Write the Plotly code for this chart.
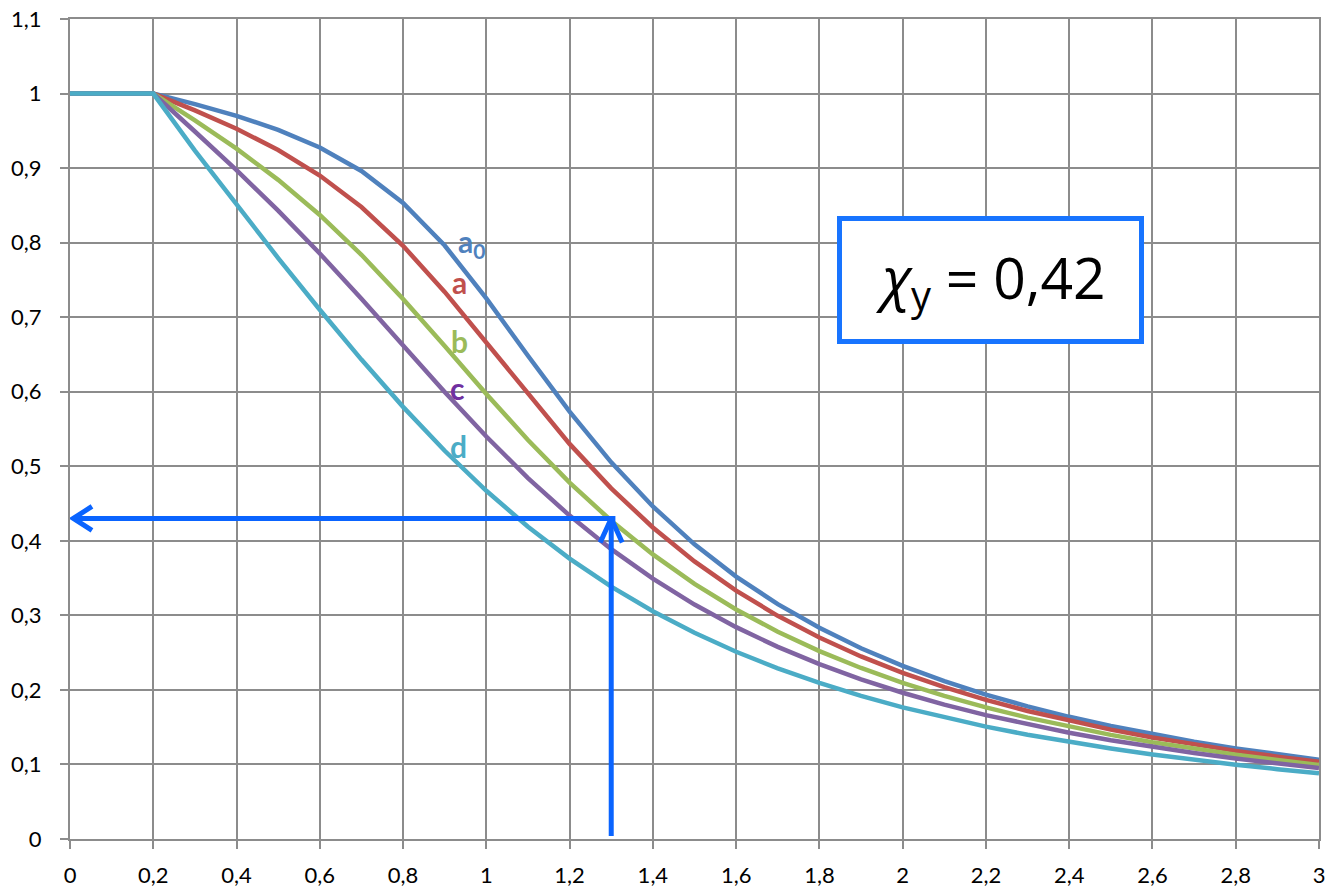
import plotly.graph_objects as go

lam = [0.0, 0.1, 0.2, 0.3, 0.4, 0.5, 0.6, 0.7, 0.8, 0.9, 1.0, 1.1, 1.2, 1.3, 1.4, 1.5,
       1.6, 1.7, 1.8, 1.9, 2.0, 2.1, 2.2, 2.3, 2.4, 2.5, 2.6, 2.7, 2.8, 2.9, 3.0]

chi_a0 = [1.0, 1.0, 1.0, 0.9859, 0.9701, 0.9513, 0.9276, 0.8961, 0.8533, 0.7961, 0.7253,
          0.6482, 0.5732, 0.5053, 0.4461, 0.3953, 0.3520, 0.3150, 0.2833, 0.2559, 0.2323,
          0.2117, 0.1937, 0.1779, 0.1639, 0.1515, 0.1404, 0.1305, 0.1216, 0.1136, 0.1063]
chi_a = [1.0, 1.0, 1.0, 0.9775, 0.9528, 0.9243, 0.8900, 0.8477, 0.7957, 0.7339, 0.6656,
         0.5960, 0.5300, 0.4703, 0.4179, 0.3724, 0.3332, 0.2994, 0.2702, 0.2449, 0.2229,
         0.2036, 0.1867, 0.1717, 0.1585, 0.1467, 0.1362, 0.1267, 0.1182, 0.1105, 0.1036]
chi_b = [1.0, 1.0, 1.0, 0.9641, 0.9261, 0.8842, 0.8371, 0.7837, 0.7245, 0.6612, 0.5970,
         0.5352, 0.4781, 0.4269, 0.3817, 0.3422, 0.3079, 0.2781, 0.2521, 0.2294, 0.2095,
         0.1920, 0.1765, 0.1628, 0.1506, 0.1397, 0.1299, 0.1211, 0.1132, 0.1060, 0.0994]
chi_c = [1.0, 1.0, 1.0, 0.9491, 0.8973, 0.8430, 0.7854, 0.7247, 0.6622, 0.5998, 0.5399,
         0.4842, 0.4338, 0.3888, 0.3492, 0.3145, 0.2842, 0.2577, 0.2345, 0.2141, 0.1962,
         0.1803, 0.1662, 0.1537, 0.1425, 0.1325, 0.1234, 0.1153, 0.1079, 0.1012, 0.0951]
chi_d = [1.0, 1.0, 1.0, 0.9235, 0.8504, 0.7793, 0.7100, 0.6431, 0.5797, 0.5208, 0.4671,
         0.4189, 0.3762, 0.3385, 0.3055, 0.2766, 0.2512, 0.2289, 0.2093, 0.1920, 0.1766,
         0.1630, 0.1508, 0.1399, 0.1302, 0.1214, 0.1134, 0.1062, 0.0997, 0.0937, 0.0882]

series_names = ["a0", "a", "b", "c", "d"]
series_values = [chi_a0, chi_a, chi_b, chi_c, chi_d]
line_colors = ["#4F81BD", "#C0504D", "#9BBB59", "#8064A2", "#4BACC6"]
label_texts = ["a<sub>0</sub>", "a", "b", "c", "d"]
label_colors = ["#4F81BD", "#C0504D", "#9BBB59", "#7030A0", "#4BACC6"]
label_x = [0.965, 0.936, 0.936, 0.93, 0.934]
label_y = [0.800, 0.747, 0.668, 0.605, 0.527]

read_lam = 1.3
read_chi = 0.43
box_text = "<i>χ</i><sub>y</sub> = 0,42"

x_ticks = [0, 0.2, 0.4, 0.6, 0.8, 1, 1.2, 1.4, 1.6, 1.8, 2, 2.2, 2.4, 2.6, 2.8, 3]
y_ticks = [0, 0.1, 0.2, 0.3, 0.4, 0.5, 0.6, 0.7, 0.8, 0.9, 1, 1.1]

fig = go.Figure()
for name, vals, col in zip(series_names, series_values, line_colors):
    fig.add_trace(go.Scatter(x=lam, y=vals, mode="lines", name=name,
                             line=dict(color=col, width=4.5), showlegend=False,
                             hoverinfo="skip"))

arrow_col = "#0A64FF"
# plot area pixel scale (approx): 1250 px for 3 units in x, 820 px for 1.1 units in y
px_x = 1250 / 3
px_y = 820 / 1.1
dx = 22 / px_x
dy = 12 / px_y
# horizontal arrow to y axis
fig.add_trace(go.Scatter(x=[read_lam + 0.01, 0.008, None, dx, 0.008, dx],
                         y=[read_chi, read_chi, None, read_chi + dy, read_chi, read_chi - dy],
                         mode="lines", line=dict(color=arrow_col, width=5),
                         showlegend=False, hoverinfo="skip"))
# vertical arrow up from x axis
dx2 = 11 / px_x
dy2 = 24 / px_y
fig.add_trace(go.Scatter(x=[read_lam, read_lam, None, read_lam - dx2, read_lam, read_lam + dx2],
                         y=[0.004, read_chi, None, read_chi - dy2, read_chi, read_chi - dy2],
                         mode="lines", line=dict(color=arrow_col, width=5),
                         showlegend=False, hoverinfo="skip"))

for t, c, x, y in zip(label_texts, label_colors, label_x, label_y):
    fig.add_annotation(x=x, y=y, text="<b>" + t + "</b>", showarrow=False,
                       font=dict(family="Lato", size=30, color=c),
                       xanchor="center", yanchor="middle")

fig.add_annotation(x=2.21, y=0.75, text=box_text, showarrow=False,
                   font=dict(family="Open Sans", size=57, color="black"),
                   bordercolor="#1874FF", borderwidth=5, borderpad=0,
                   width=297, height=118, bgcolor="white",
                   xanchor="center", yanchor="middle")

axis_common = dict(showgrid=True, gridcolor="#8C8C8C", gridwidth=2,
                   zeroline=False, showline=True, mirror=True,
                   linecolor="#8C8C8C", linewidth=2, automargin=False,
                   ticks="outside", ticklen=8, tickcolor="#8C8C8C", tickwidth=2,
                   ticklabeloverflow="allow",
                   tickfont=dict(family="Lato", size=22, color="black"))

fig.update_xaxes(range=[0, 3], tickvals=x_ticks, ticklabelstandoff=8, **axis_common)
fig.update_yaxes(range=[0, 1.1], tickvals=y_ticks, ticklabelstandoff=14, **axis_common)

fig.update_layout(width=1325, height=888, separators=", ",
                  margin=dict(l=70, r=6, t=19, b=49),
                  plot_bgcolor="white", paper_bgcolor="white")

fig.write_html("out.html", config={"displayModeBar": False},
               post_script="document.body.style.margin='0';")
